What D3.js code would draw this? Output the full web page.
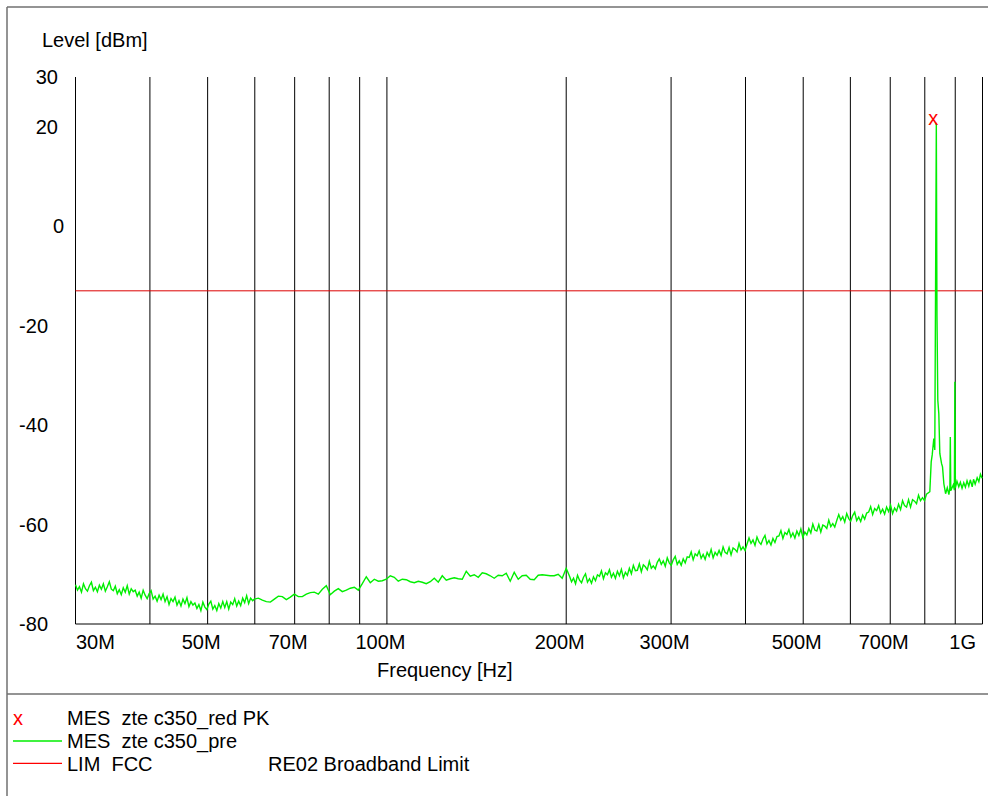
<!DOCTYPE html>
<html>
<head>
<meta charset="utf-8">
<script src="https://cdn.jsdelivr.net/npm/d3@7"></script>
<style>
  body { margin: 0; background: #fff; }
  svg text { font-family: Arial, "Liberation Sans", sans-serif; font-size: 20px; fill: #000; white-space: pre; }
</style>
</head>
<body>
<svg id="chart" width="988" height="796"></svg>
<script>
// axis values
var yTicks = [30, 20, 0, -20, -40, -60, -80];
var xTicks = [30, 50, 70, 100, 200, 300, 500, 700, 1000];
var xTickLabels = ["30M", "50M", "70M", "100M", "200M", "300M", "500M", "700M", "1G"];
var gridFreqs = [40, 50, 60, 70, 80, 90, 100, 200, 300, 400, 500, 600, 700, 800, 900, 1000];

// FCC limit (dBm)
var limitLevel = -13;

// peak marker (MHz, dBm)
var peakFreq = 828;
var peakLevel = 21.5;

// sweep 30M .. 59.5M (log-spaced samples)
var levels30to60 = [
  -72.1, -73.2, -72.5, -73.6, -71.9, -72.9, -73.4, -72.3, -71.6, -73.3, -72.6, -73.5, -72.2, -73.0, -71.9,
  -73.4, -72.5, -71.5, -73.0, -73.3, -72.4, -73.9, -73.1, -74.1, -72.7, -73.6, -72.3, -74.0, -72.9, -73.5,
  -73.2, -74.4, -73.6, -74.8, -73.2, -74.2, -74.9, -73.9, -73.3, -75.0, -74.4, -75.4, -74.2, -75.1, -74.0,
  -75.5, -74.5, -76.1, -74.9, -75.5, -74.6, -76.2, -75.3, -76.4, -75.0, -75.9, -74.7, -76.5, -75.5, -76.2,
  -75.8, -76.9, -76.1, -77.3, -75.6, -76.6, -77.1, -76.0, -75.4, -77.0, -76.3, -77.3, -75.9, -76.8, -75.5,
  -76.7, -75.5, -77.0, -75.6, -76.1, -74.9, -76.4, -75.4, -76.3, -74.8, -75.7, -74.3, -75.9, -74.8, -75.3
];

// sweep 60M .. 200M
var levels60to200 = [
  -75.0, -74.8, -75.2, -75.5, -75.6, -75.0, -74.4, -74.5, -75.1, -74.6,
  -74.0, -74.5, -74.5, -74.0, -73.7, -73.6, -74.0, -73.0, -72.3, -74.1,
  -73.4, -72.9, -73.5, -73.2, -72.8, -72.6, -73.2, -71.9, -70.5, -71.7,
  -71.0, -71.4, -71.3, -71.0, -70.3, -70.6, -71.4, -71.0, -71.1, -71.5,
  -71.7, -71.4, -71.6, -71.9, -71.5, -70.8, -71.6, -70.3, -71.2, -70.9,
  -70.7, -70.9, -71.0, -69.4, -70.4, -70.1, -70.6, -69.7, -69.9, -70.3,
  -70.8, -70.2, -70.3, -69.8, -71.4, -69.6, -71.0, -70.3, -70.2, -71.0,
  -71.1, -70.2, -70.1, -70.2, -70.3, -70.3, -70.0, -70.8, -68.8
];

// sweep 202.6M .. 805M
var levels200to805 = [
  -70.4, -71.5, -70.8, -71.9, -70.2, -71.2, -71.7, -70.6, -69.9, -71.6, -70.9, -71.8, -70.5, -71.3, -70.1,
  -70.4, -69.3, -70.9, -69.7, -70.1, -69.1, -70.6, -69.8, -70.8, -69.4, -70.3, -69.0, -70.7, -69.6, -70.2,
  -68.8, -69.9, -68.2, -69.3, -69.2, -67.9, -69.5, -68.1, -68.5, -69.1, -67.4, -68.8, -68.3, -68.9, -67.6,
  -66.9, -68.0, -67.3, -68.4, -66.7, -67.7, -68.2, -67.1, -66.4, -68.0, -67.3, -68.2, -66.9, -67.7, -66.5,
  -66.6, -65.5, -67.1, -65.9, -66.3, -65.3, -66.8, -66.0, -67.0, -65.6, -66.4, -65.0, -66.7, -65.6, -66.2,
  -65.2, -66.2, -64.5, -65.6, -65.9, -64.6, -66.1, -64.7, -65.0, -65.5, -63.8, -65.1, -64.5, -65.2, -63.9,
  -62.7, -63.8, -63.1, -64.2, -62.5, -63.5, -64.0, -62.9, -62.2, -63.9, -63.2, -64.1, -62.8, -63.6, -62.4,
  -62.3, -61.2, -62.8, -61.6, -62.0, -61.0, -62.5, -61.7, -62.7, -61.3, -62.2, -60.9, -62.6, -61.5, -62.1,
  -60.8, -61.7, -59.9, -61.1, -61.3, -60.0, -61.5, -60.1, -60.3, -60.8, -59.1, -60.4, -59.8, -60.5, -59.2,
  -58.0, -59.1, -58.4, -59.5, -57.8, -58.8, -59.3, -58.2, -57.5, -59.2, -58.5, -59.4, -58.1, -58.9, -57.7,
  -57.5, -56.4, -58.0, -56.8, -57.2, -56.2, -57.7, -56.9, -57.9, -56.5, -57.4, -56.1, -57.8, -56.7, -57.3,
  -55.9, -57.0, -55.2, -56.2, -56.5, -55.0, -56.5, -55.0, -55.3, -55.8, -54.1, -55.2, -54.6, -55.2, -53.9
];

// 815M .. 1G, carrier and spurs
var tailFreqs = [
  815.7, 820.1, 823.3, 828.4, 831.6, 836.5, 838.6, 841.3, 844.6, 847.9,
  853.5, 856.8, 861.2, 867.0, 872.7, 878.2, 881.5, 883.0, 884.6, 893.2,
  897.0, 898.6, 900.5, 906.0, 912.4, 918.0, 924.0, 930.1, 936.0, 942.0,
  948.4, 954.0, 960.9, 966.0, 972.0, 979.6, 986.0, 992.1, 998.7
];
var tailLevels = [
  -53.4, -47.4, -46.0, -42.7, -45.0, 20.8, -18.0, -35.0, -37.7, -45.7,
  -47.7, -48.4, -51.8, -53.8, -52.6, -54.0, -52.6, -42.4, -53.2, -52.0,
  -53.1, -31.3, -52.6, -51.3, -52.4, -51.5, -52.7, -51.6, -52.5, -51.2,
  -52.3, -51.0, -52.4, -50.9, -51.9, -50.6, -51.4, -49.9, -50.7
];

function spread(f0, f1, levels) {
  return levels.map(function(v, i) {
    return [f0 * Math.pow(f1 / f0, i / (levels.length - 1)), v];
  });
}

var trace = []
  .concat(spread(30, 59.5, levels30to60))
  .concat(spread(59.9, 200, levels60to200))
  .concat(spread(202.6, 805.3, levels200to805))
  .concat(tailFreqs.map(function(f, i) { return [f, tailLevels[i]]; }));

var svg = d3.select("#chart");

var x = d3.scaleLog().domain([30, 1000]).range([75, 982]);
var y = d3.scaleLinear().domain([-80, 30]).range([624, 77]);

// outer frame
var frame = svg.append("g").attr("stroke", "#707070").attr("stroke-width", 1.5);
frame.append("line").attr("x1", 7).attr("x2", 7).attr("y1", 7).attr("y2", 796);
frame.append("line").attr("x1", 7).attr("x2", 988).attr("y1", 7).attr("y2", 7);
frame.append("line").attr("x1", 7).attr("x2", 988).attr("y1", 694).attr("y2", 694);

var plot = svg.append("g").attr("transform", "translate(0.5,0)");

// vertical grid
plot.selectAll(".grid")
  .data(gridFreqs)
  .join("line")
    .attr("class", "grid")
    .attr("x1", function(d) { return x(d); })
    .attr("x2", function(d) { return x(d); })
    .attr("y1", y(30))
    .attr("y2", y(-80))
    .attr("stroke", "#000")
    .attr("stroke-width", 1);

// left and bottom axis lines
plot.append("line")
  .attr("x1", x(30)).attr("x2", x(30)).attr("y1", y(30)).attr("y2", y(-80))
  .attr("stroke", "#000");
plot.append("line")
  .attr("x1", x(30)).attr("x2", x(1000)).attr("y1", y(-80)).attr("y2", y(-80))
  .attr("stroke", "#000");

// limit line
plot.append("line")
  .attr("x1", x(30)).attr("x2", x(1000))
  .attr("y1", y(limitLevel)).attr("y2", y(limitLevel))
  .attr("stroke", "#dd0000")
  .attr("stroke-width", 1);

// measured trace
var line = d3.line()
  .x(function(d) { return x(d[0]); })
  .y(function(d) { return y(d[1]); });

plot.append("path")
  .datum(trace)
  .attr("fill", "none")
  .attr("stroke", "#00ee00")
  .attr("stroke-width", 1.4)
  .attr("d", line);

// peak marker
svg.append("text")
  .attr("x", x(peakFreq))
  .attr("y", y(peakLevel) + 5.5)
  .attr("text-anchor", "middle")
  .style("fill", "#ff0000")
  .text("x");

// y tick labels
svg.selectAll(".ylab")
  .data(yTicks)
  .join("text")
    .attr("class", "ylab")
    .attr("text-anchor", "end")
    .attr("x", function(d) { return d < 0 ? 48 : (d == 0 ? 64 : 58); })
    .attr("y", function(d) { return y(d) + 7; })
    .text(function(d) { return d; });

// x tick labels, kept inside the plot
svg.selectAll(".xlab")
  .data(xTicks)
  .join("text")
    .attr("class", "xlab")
    .attr("y", 649)
    .text(function(d, i) { return xTickLabels[i]; })
    .attr("x", function(d) {
      var w = this.getComputedTextLength();
      var left = x(d) - 6 - w / 2;
      return Math.max(76, Math.min(976 - w, left));
    });

// axis titles
svg.append("text").attr("x", 42).attr("y", 47).text("Level [dBm]");
svg.append("text").attr("x", 377).attr("y", 677).text("Frequency [Hz]");

// legend
var legend = svg.append("g");
legend.append("text").attr("x", 13).attr("y", 725).style("fill", "#ff0000").text("x");
legend.append("text").attr("x", 67).attr("y", 725).text("MES  zte c350_red PK");
legend.append("line").attr("x1", 13).attr("x2", 62).attr("y1", 741).attr("y2", 741)
  .style("stroke", "#00ee00").style("stroke-width", 1.4);
legend.append("text").attr("x", 67).attr("y", 748).text("MES  zte c350_pre");
legend.append("path").attr("d", "M13,763.3H62")
  .attr("fill", "none").style("stroke", "#ff0000").style("stroke-width", 1.3);
legend.append("text").attr("x", 67).attr("y", 771).text("LIM  FCC");
legend.append("text").attr("x", 268).attr("y", 771).text("RE02 Broadband Limit");
</script>
</body>
</html>
